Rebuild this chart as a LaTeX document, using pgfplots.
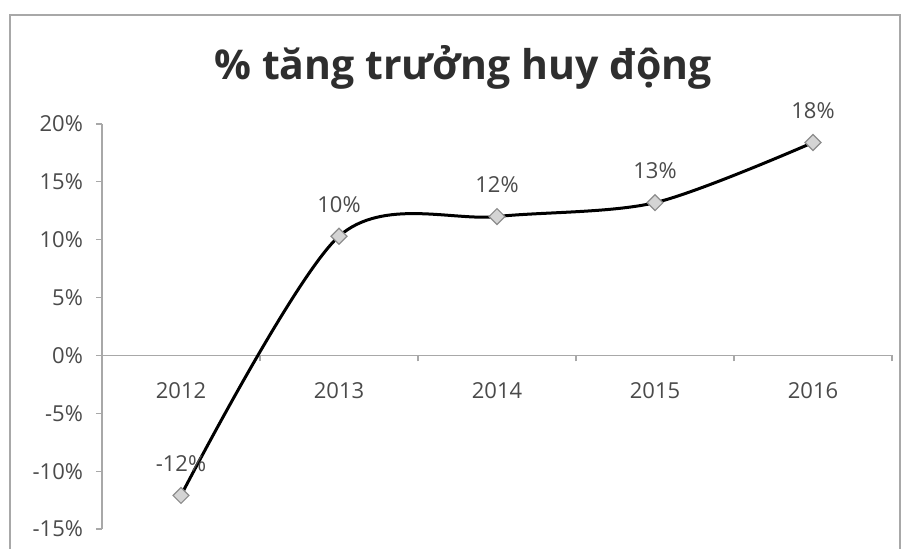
\documentclass[border=0pt]{standalone}
\usepackage{fontspec}
\setmainfont{Open Sans}
\usepackage{pgfplots}
\pgfplotsset{compat=1.18}
\definecolor{axgray}{HTML}{A8A8A8}
\definecolor{txtgray}{HTML}{4A4A4A}
\definecolor{titlegray}{HTML}{2E2E2E}
\definecolor{markfill}{HTML}{D4D4D4}
\definecolor{markdraw}{HTML}{8C8C8C}
\begin{document}
\begin{tikzpicture}
\useasboundingbox (0,0) rectangle (452pt,274.5pt);
\draw[axgray, line width=0.8pt] (5pt,-2pt) -- (5pt,267pt) -- (450pt,267pt) -- (450pt,-2pt);
\node[anchor=base, font=\fontsize{20.5}{24}\selectfont\bfseries, text=titlegray] at (231.5pt,234.5pt) {\% tăng trưởng huy động};
\begin{axis}[
  at={(51pt,10pt)}, anchor=south west,
  scale only axis, width=395pt, height=202.5pt,
  xmin=-0.5, xmax=4.5, ymin=-15, ymax=20,
  axis x line=middle, axis y line=left,
  axis line style={axgray, line width=0.6pt, -},
  xtick={0,1,2,3,4},
  xticklabels={2012,2013,2014,2015,2016},
  major x tick style={draw=none},
  minor xtick={-0.5,0.5,1.5,2.5,3.5,4.5},
  minor x tick style={axgray, line width=0.6pt},
  minor tick length=3pt,
  ytick={-15,-10,-5,0,5,10,15,20},
  major tick length=3pt,
  y tick style={axgray, line width=0.6pt},
  tick align=outside,
  /pgf/number format/assume math mode=true,
  yticklabel={\pgfmathprintnumber{\tick}\%},
  yticklabel style={font=\fontsize{11}{12}\selectfont, text=txtgray, xshift=-3pt},
  xticklabel style={font=\fontsize{11}{12}\selectfont, text=txtgray, yshift=-7pt},
  clip=false,
]
\addplot[black, line width=1.5pt, smooth,
  mark=square*, mark size=2.8pt,
  mark options={rotate=45, fill=markfill, draw=markdraw, line width=0.6pt},
  point meta=explicit,
  nodes near coords={\pgfmathprintnumber{\pgfplotspointmeta}\%},
  every node near coord/.append style={font=\fontsize{11}{12}\selectfont, text=txtgray, anchor=center, yshift=16pt},
] table[meta=lab] {
x y lab
0 -12.1 -12
1 10.3 10
2 12.0 12
3 13.2 13
4 18.4 18
};
\end{axis}
\end{tikzpicture}
\end{document}
